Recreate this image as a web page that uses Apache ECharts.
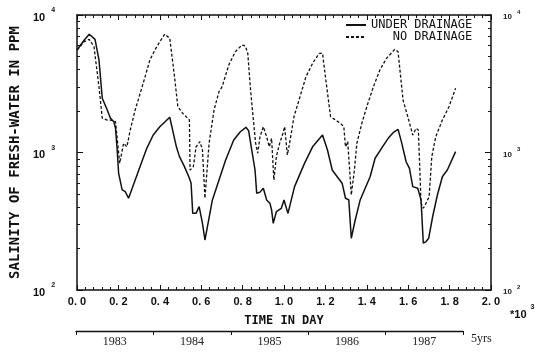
<!DOCTYPE html>
<html><head><meta charset="utf-8">
<script src="https://cdn.jsdelivr.net/npm/echarts@6/dist/echarts.min.js"></script>
<style>html,body{margin:0;padding:0;background:#fff}#c{width:535px;height:353px}</style>
</head><body><div id="c"></div>
<script>
// Time in days (x 10^3)
const underX = [0.000,0.035,0.059,0.087,0.106,0.122,0.146,0.162,0.178,0.186,0.194,0.201,0.218,0.233,0.249,0.281,0.313,0.337,0.368,0.400,0.448,0.456,0.480,0.495,0.519,0.543,0.551,0.559,0.575,0.590,0.606,0.618,0.630,0.654,0.686,0.718,0.757,0.789,0.816,0.829,0.844,0.860,0.868,0.884,0.900,0.916,0.932,0.940,0.948,0.963,0.987,1.000,1.019,1.051,1.099,1.138,1.186,1.210,1.233,1.257,1.281,1.297,1.313,1.325,1.344,1.368,1.392,1.416,1.440,1.471,1.503,1.527,1.551,1.567,1.590,1.606,1.622,1.646,1.662,1.673,1.686,1.699,1.718,1.741,1.765,1.789,1.829];
const underY = [5560,6580,7250,6650,4710,2480,2040,1770,1675,1500,1043,706,534,519,465,631,857,1072,1340,1540,1805,1780,1100,933,789,649,597,361,361,404,305,231,289,452,631,881,1233,1416,1524,1440,1043,746,505,515,550,452,427,382,305,371,393,452,361,565,834,1100,1340,1043,746,667,597,465,452,238,323,452,550,667,908,1072,1268,1393,1473,1199,857,767,565,550,452,219,225,238,341,491,667,746,1015];
const noX = [0.000,0.035,0.059,0.082,0.106,0.122,0.146,0.162,0.186,0.206,0.225,0.241,0.257,0.281,0.305,0.329,0.352,0.376,0.400,0.424,0.448,0.471,0.487,0.511,0.543,0.546,0.562,0.575,0.594,0.606,0.618,0.638,0.662,0.686,0.701,0.733,0.765,0.797,0.813,0.825,0.837,0.852,0.863,0.873,0.884,0.900,0.916,0.929,0.940,0.951,0.963,0.979,0.995,1.003,1.016,1.027,1.048,1.075,1.106,1.138,1.170,1.186,1.202,1.225,1.249,1.273,1.289,1.297,1.308,1.325,1.340,1.352,1.376,1.400,1.432,1.463,1.495,1.535,1.551,1.575,1.598,1.622,1.638,1.649,1.662,1.673,1.686,1.701,1.714,1.733,1.765,1.797,1.829];
const noY = [5560,6410,6650,5880,3010,1775,1722,1722,1675,834,1167,1100,1458,2040,2690,3560,4710,5560,6400,7250,6770,3560,2153,1926,1722,746,789,1100,1199,1043,465,1167,2040,2770,3010,4330,5410,6050,5950,5260,3010,1722,1167,990,1302,1540,1302,1100,1268,631,933,1167,1380,1540,959,1167,1820,2480,3560,4450,5260,5260,3370,1820,1722,1630,1540,1100,1199,491,746,1167,1630,2153,3010,3980,4840,5620,5410,2410,1820,1340,1500,1458,427,393,427,476,933,1302,1722,2153,2930];
const seriesNames = ['UNDER DRAINAGE','NO DRAINAGE'];
const years = ['1983','1984','1985','1986','1987'];
const yMajorTicks = [100,1000,10000];
const yMinorTicks = [200,300,400,500,600,700,800,900,2000,3000,4000,5000,6000,7000,8000,9000];

const chart = echarts.init(document.getElementById('c'));
const mono = 'DejaVu Sans Mono';
const ink = '#111';
function expLabel(v){ const e = Math.round(Math.log10(v)); return '{b|10}{s|' + e + '}'; }
const yAxisBase = {type:'log', logBase:10, min:100, max:10000, gridIndex:0, splitLine:{show:false}};
chart.setOption({
  animation:false,
  backgroundColor:'#fff',
  grid:[{left:71, right:44, top:15, bottom:63},{left:76, right:72, top:330, height:1}],
  legend:{
    data:seriesNames, orient:'vertical', left:340, top:14, itemWidth:20, itemHeight:10, itemGap:0,
    align:'left', itemStyle:{opacity:0},
    formatter:n => n === 'NO DRAINAGE' ? '   NO DRAINAGE' : n,
    textStyle:{fontFamily:mono, fontSize:12, color:ink}
  },
  xAxis:[
    {type:'value', gridIndex:0, min:0, max:2, interval:0.2, position:'bottom',
     axisLine:{lineStyle:{color:ink, width:1.5}},
     axisTick:{inside:true, length:5, lineStyle:{color:ink}},
     minorTick:{show:true, splitNumber:5, length:3, lineStyle:{color:ink}},
     splitLine:{show:false},
     axisLabel:{margin:6, fontFamily:'Liberation Sans', fontWeight:'bold', fontSize:11, color:ink,
       formatter:v => v.toFixed(1).replace('.', '. ')},
     name:'TIME IN DAY', nameLocation:'middle', nameGap:25,
     nameTextStyle:{fontFamily:mono, fontWeight:'bold', fontSize:12, color:ink}},
    {type:'value', gridIndex:0, min:0, max:2, interval:0.2, position:'top',
     axisLine:{lineStyle:{color:ink, width:1.5}},
     axisTick:{inside:true, length:5, lineStyle:{color:ink}},
     minorTick:{show:true, splitNumber:5, length:3, lineStyle:{color:ink}},
     splitLine:{show:false}, axisLabel:{show:false}},
    {type:'category', gridIndex:1, data:years, boundaryGap:true, position:'bottom',
     axisLine:{lineStyle:{color:ink, width:1.3}},
     axisTick:{show:true, inside:false, length:4, interval:0, lineStyle:{color:ink}},
     axisLabel:{interval:0, margin:5, fontFamily:'Liberation Serif', fontSize:12, color:'#222'},
     name:'5yrs', nameLocation:'end', nameGap:8,
     nameTextStyle:{fontFamily:'Liberation Serif', fontSize:12, color:'#222', verticalAlign:'top', padding:[2,0,0,0]}}
  ],
  yAxis:[
    Object.assign({}, yAxisBase, {position:'left',
      axisLine:{show:true, lineStyle:{color:ink, width:1.5}},
      axisTick:{show:true, inside:true, length:6, customValues:yMajorTicks, lineStyle:{color:ink}},
      axisLabel:{margin:22, customValues:yMajorTicks, formatter:expLabel,
        rich:{b:{fontFamily:'Liberation Sans', fontWeight:'bold', fontSize:11, color:ink, lineHeight:16, verticalAlign:'bottom'},
              s:{fontFamily:'Liberation Sans', fontWeight:'bold', fontSize:7, color:ink, lineHeight:8, verticalAlign:'top', padding:[0,0,0,6]}}},
      name:'SALINITY OF FRESH-WATER IN PPM', nameLocation:'middle', nameGap:54,
      nameTextStyle:{fontFamily:mono, fontWeight:'bold', fontSize:14, color:ink}}),
    Object.assign({}, yAxisBase, {position:'left',
      axisLine:{show:false},
      axisTick:{show:true, inside:true, length:3, customValues:yMinorTicks, lineStyle:{color:ink}},
      axisLabel:{show:false}}),
    Object.assign({}, yAxisBase, {position:'right',
      axisLine:{show:true, lineStyle:{color:ink, width:1.5}},
      axisTick:{show:true, inside:true, length:6, customValues:yMajorTicks, lineStyle:{color:ink}},
      axisLabel:{margin:12, customValues:yMajorTicks, formatter:expLabel,
        rich:{b:{fontFamily:'Liberation Sans', fontWeight:'bold', fontSize:8, color:'#222', lineHeight:12, verticalAlign:'bottom'},
              s:{fontFamily:'Liberation Sans', fontWeight:'bold', fontSize:6, color:'#222', lineHeight:6, verticalAlign:'top', padding:[0,0,0,5]}}}}),
    Object.assign({}, yAxisBase, {position:'right',
      axisLine:{show:false},
      axisTick:{show:true, inside:true, length:3, customValues:yMinorTicks, lineStyle:{color:ink}},
      axisLabel:{show:false}}),
    {type:'value', gridIndex:1, show:false}
  ],
  graphic:[{type:'text', left:510, top:304,
    style:{text:'{a|*10}{b|3}', rich:{
      a:{fontFamily:'Liberation Sans', fontWeight:'bold', fontSize:11, fill:ink, lineHeight:16, verticalAlign:'bottom'},
      b:{fontFamily:'Liberation Sans', fontWeight:'bold', fontSize:7, fill:ink, lineHeight:8, verticalAlign:'top', padding:[0,0,0,4]}}}}],
  series:[
    {name:seriesNames[0], type:'line', xAxisIndex:0, yAxisIndex:0, symbol:'none',
     data:underX.map((x,i)=>[x, underY[i]]), lineStyle:{color:ink, width:1.5}, itemStyle:{color:ink}},
    {name:seriesNames[1], type:'line', xAxisIndex:0, yAxisIndex:0, symbol:'none',
     data:noX.map((x,i)=>[x, noY[i]]), lineStyle:{color:ink, width:1.3, type:[3,2]}, itemStyle:{color:ink}}
  ]
});
</script></body></html>
